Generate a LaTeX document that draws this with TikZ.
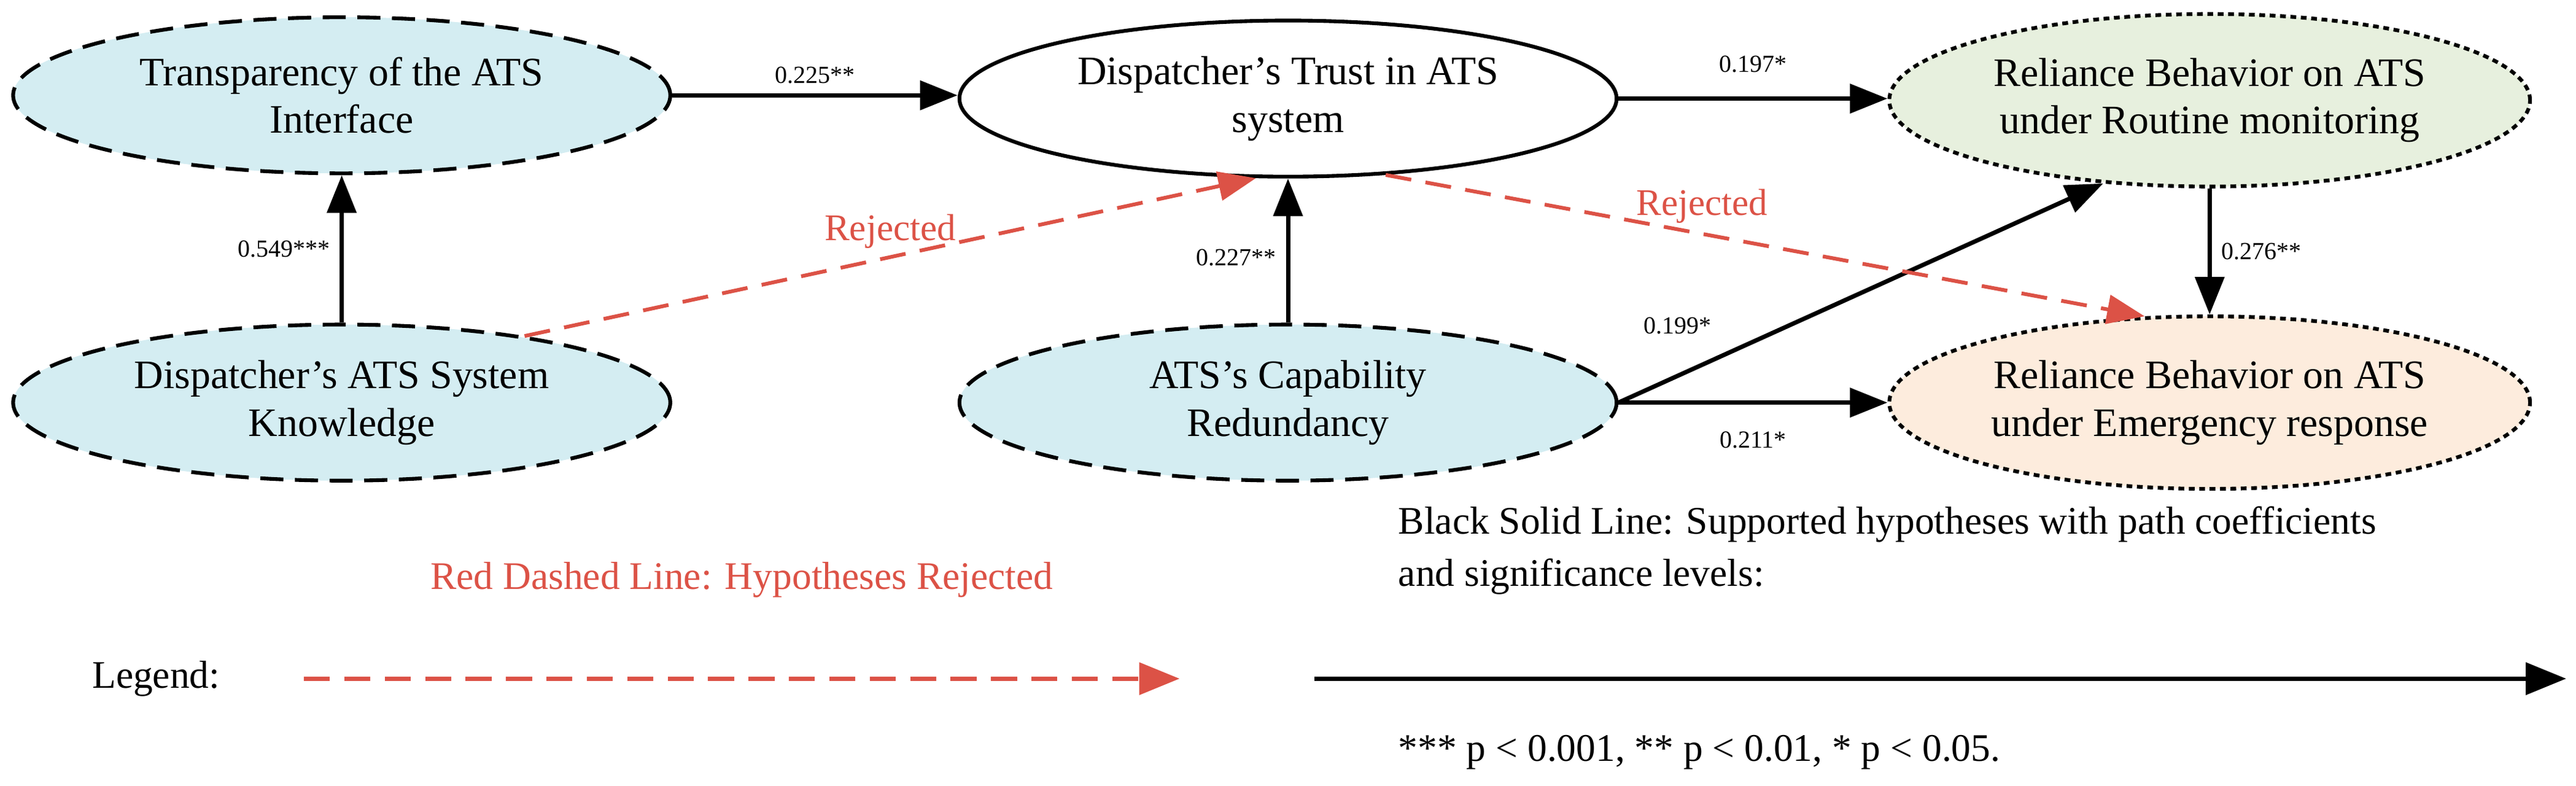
\documentclass[tikz,border=0pt]{standalone}
\usepackage{fontspec}
\setmainfont{Liberation Serif}
\usetikzlibrary{shapes.geometric, arrows.meta}
\definecolor{latblue}{HTML}{D4EDF2}
\definecolor{latgreen}{HTML}{E7F0DE}
\definecolor{latorange}{HTML}{FDECDD}
\definecolor{rejred}{HTML}{DC5246}
\tikzset{
  var/.style={ellipse, draw, line width=1.3pt, minimum width=80mm, minimum height=19mm,
    align=center, inner sep=0pt, font=\fontsize{14}{16.5}\selectfont},
  exo/.style={var, fill=latblue, dash pattern=on 8pt off 4pt},
  dep/.style={var, minimum width=78mm, minimum height=21mm, dash pattern=on 2pt off 1.6pt},
  sup/.style={line width=1.5pt, -{Triangle[length=13pt, width=10pt]}},
  rej/.style={line width=1.3pt, rejred, dash pattern=on 9pt off 5pt, -{Triangle[length=13pt, width=10pt]}},
  coef/.style={font=\fontsize{8.5}{10}\selectfont},
  rejlab/.style={text=rejred, font=\fontsize{13}{15}\selectfont},
  leg/.style={font=\fontsize{13.5}{18}\selectfont}
}
\begin{document}
\begin{tikzpicture}[x=0.2mm, y=-0.2mm]
\useasboundingbox (0,0) rectangle (1568,478);
% variables
\node[exo] (tra) at (208,58) {Transparency of the ATS\\Interface};
\node[var] (tru) at (784,60) {Dispatcher’s Trust in ATS\\system};
\node[exo] (kno) at (208,245) {Dispatcher's ATS System\\Knowledge};
\node[exo] (cap) at (784,245) {ATS’s Capability\\Redundancy};
\node[dep, fill=latgreen] (rou) at (1345,61) {Reliance Behavior on ATS\\under Routine monitoring};
\node[dep, fill=latorange] (eme) at (1345,245) {Reliance Behavior on ATS\\under Emergency response};
% supported paths
\draw[sup] (tra.east) -- node[coef, above] {0.225**} (tra.east -| tru.west);
\draw[sup] (kno) -- node[coef, left] {0.549***} (tra);
\draw[sup] (cap) -- node[coef, left, pos=0.45] {0.227**} (tru);
\draw[sup] (tru.east) -- node[coef, above=5pt] {0.197*} (tru.east -| rou.west);
\draw[sup] (cap.east) -- node[coef, pos=0.18, above left, xshift=6pt, yshift=6pt] {0.199*} (rou.-142);
\draw[sup] (cap.east) -- node[coef, below=6pt] {0.211*} (cap.east -| eme.west);
\draw[sup] (rou) -- node[coef, right] {0.276**} (eme);
% rejected paths
\draw[rej] (kno.20) -- node[rejlab, pos=0.5, above=-1pt] {Rejected} (tru.-112);
\draw[rej] (tru.-38) -- node[rejlab, pos=0.3, above right, xshift=4pt, yshift=-6pt] {Rejected} (eme.127);
% legend
\node[leg] (lgd) at (95,413) {Legend:};
\coordinate (ra) at (185,413);
\coordinate (rb) at (718,413);
\draw[rej, line width=1.5pt, -{Triangle[length=14pt, width=11pt]}] (ra) -- node[rejlab, leg, text=rejred, above=24pt] {Red Dashed Line: Hypotheses Rejected} (rb);
\coordinate (ba) at (800,413);
\coordinate (bb) at (1562,413);
\draw[line width=1.5pt, -{Triangle[length=14pt, width=11pt]}] (ba) -- (bb);
\node[leg, anchor=west, align=left] (sl) at (845,335) {Black Solid Line: Supported hypotheses with path coefficients\\and significance levels:};
\node[leg, anchor=west] (sg) at (845,458) {*** p < 0.001, ** p < 0.01, * p < 0.05.};
\end{tikzpicture}
\end{document}
